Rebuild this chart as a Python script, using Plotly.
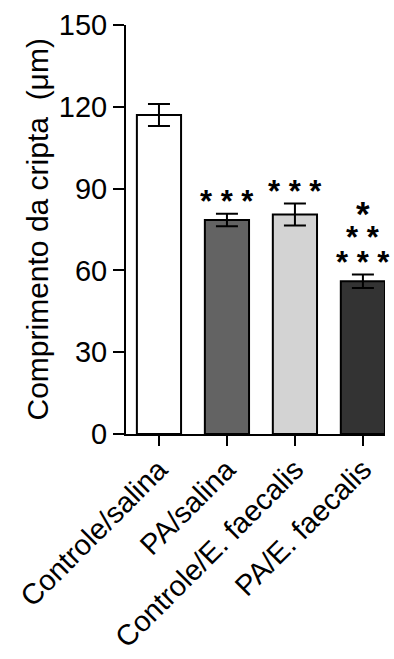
import plotly.graph_objects as go

categories = ["Controle/salina", "PA/salina", "Controle/E. faecalis", "PA/E. faecalis"]
means = [117.0, 78.5, 80.5, 56.0]
errors = [4.0, 2.3, 4.0, 2.5]
colors = ["#ffffff", "#636363", "#d3d3d3", "#333333"]
stars = [[], ["* * *"], ["* * *"], ["* * *", "* *", "*"]]
y_ticks = [0, 30, 60, 90, 120, 150]

FONT = "Liberation Sans, Arial, sans-serif"

fig = go.Figure()
fig.add_trace(go.Bar(
    x=list(range(len(categories))), y=means,
    width=0.65,
    marker=dict(color=colors, line=dict(color="black", width=2)),
    error_y=dict(type="data", array=errors, visible=True, color="black",
                 thickness=2, width=11),
))

annotations = []
for i, labels in enumerate(stars):
    for j, s in enumerate(labels):
        annotations.append(dict(
            x=i, y=means[i] + errors[i], xref="x", yref="y",
            text="<b>" + s + "</b>", showarrow=False, yanchor="middle", xanchor="center",
            yshift=12 + 24.5 * j,
            font=dict(family=FONT, size=31 if s != "*" else 35, color="black"),
        ))

annotations.append(dict(
    x=0, y=0.5, xref="paper", yref="paper", xanchor="center", yanchor="middle",
    xshift=-89, text="Comprimento da cripta \u00a0(μm)", textangle=-90,
    showarrow=False, font=dict(family=FONT, size=30, color="black"),
))

fig.update_layout(
    width=394, height=659,
    margin=dict(l=126, r=9, t=25, b=225, autoexpand=False),
    paper_bgcolor="white", plot_bgcolor="white",
    showlegend=False,
    annotations=annotations,
    font=dict(family=FONT, color="black"),
    xaxis=dict(
        range=[-0.485, 3.325], automargin=False,
        tickmode="array", tickvals=list(range(len(categories))), ticktext=categories,
        tickangle=-45, ticks="outside", ticklen=10, tickwidth=2, tickcolor="black",
        ticklabelstandoff=-5,
        showline=True, linecolor="black", linewidth=2, showgrid=False, zeroline=False,
        tickfont=dict(family=FONT, size=29, color="black"),
    ),
    yaxis=dict(
        range=[0, 150], tickmode="array", tickvals=y_ticks, automargin=False,
        ticks="outside", ticklen=11, tickwidth=2, tickcolor="black",
        showline=True, linecolor="black", linewidth=2, showgrid=False, zeroline=False,
        tickfont=dict(family=FONT, size=29, color="black"),
    ),
)

fig.write_html("out.html")
